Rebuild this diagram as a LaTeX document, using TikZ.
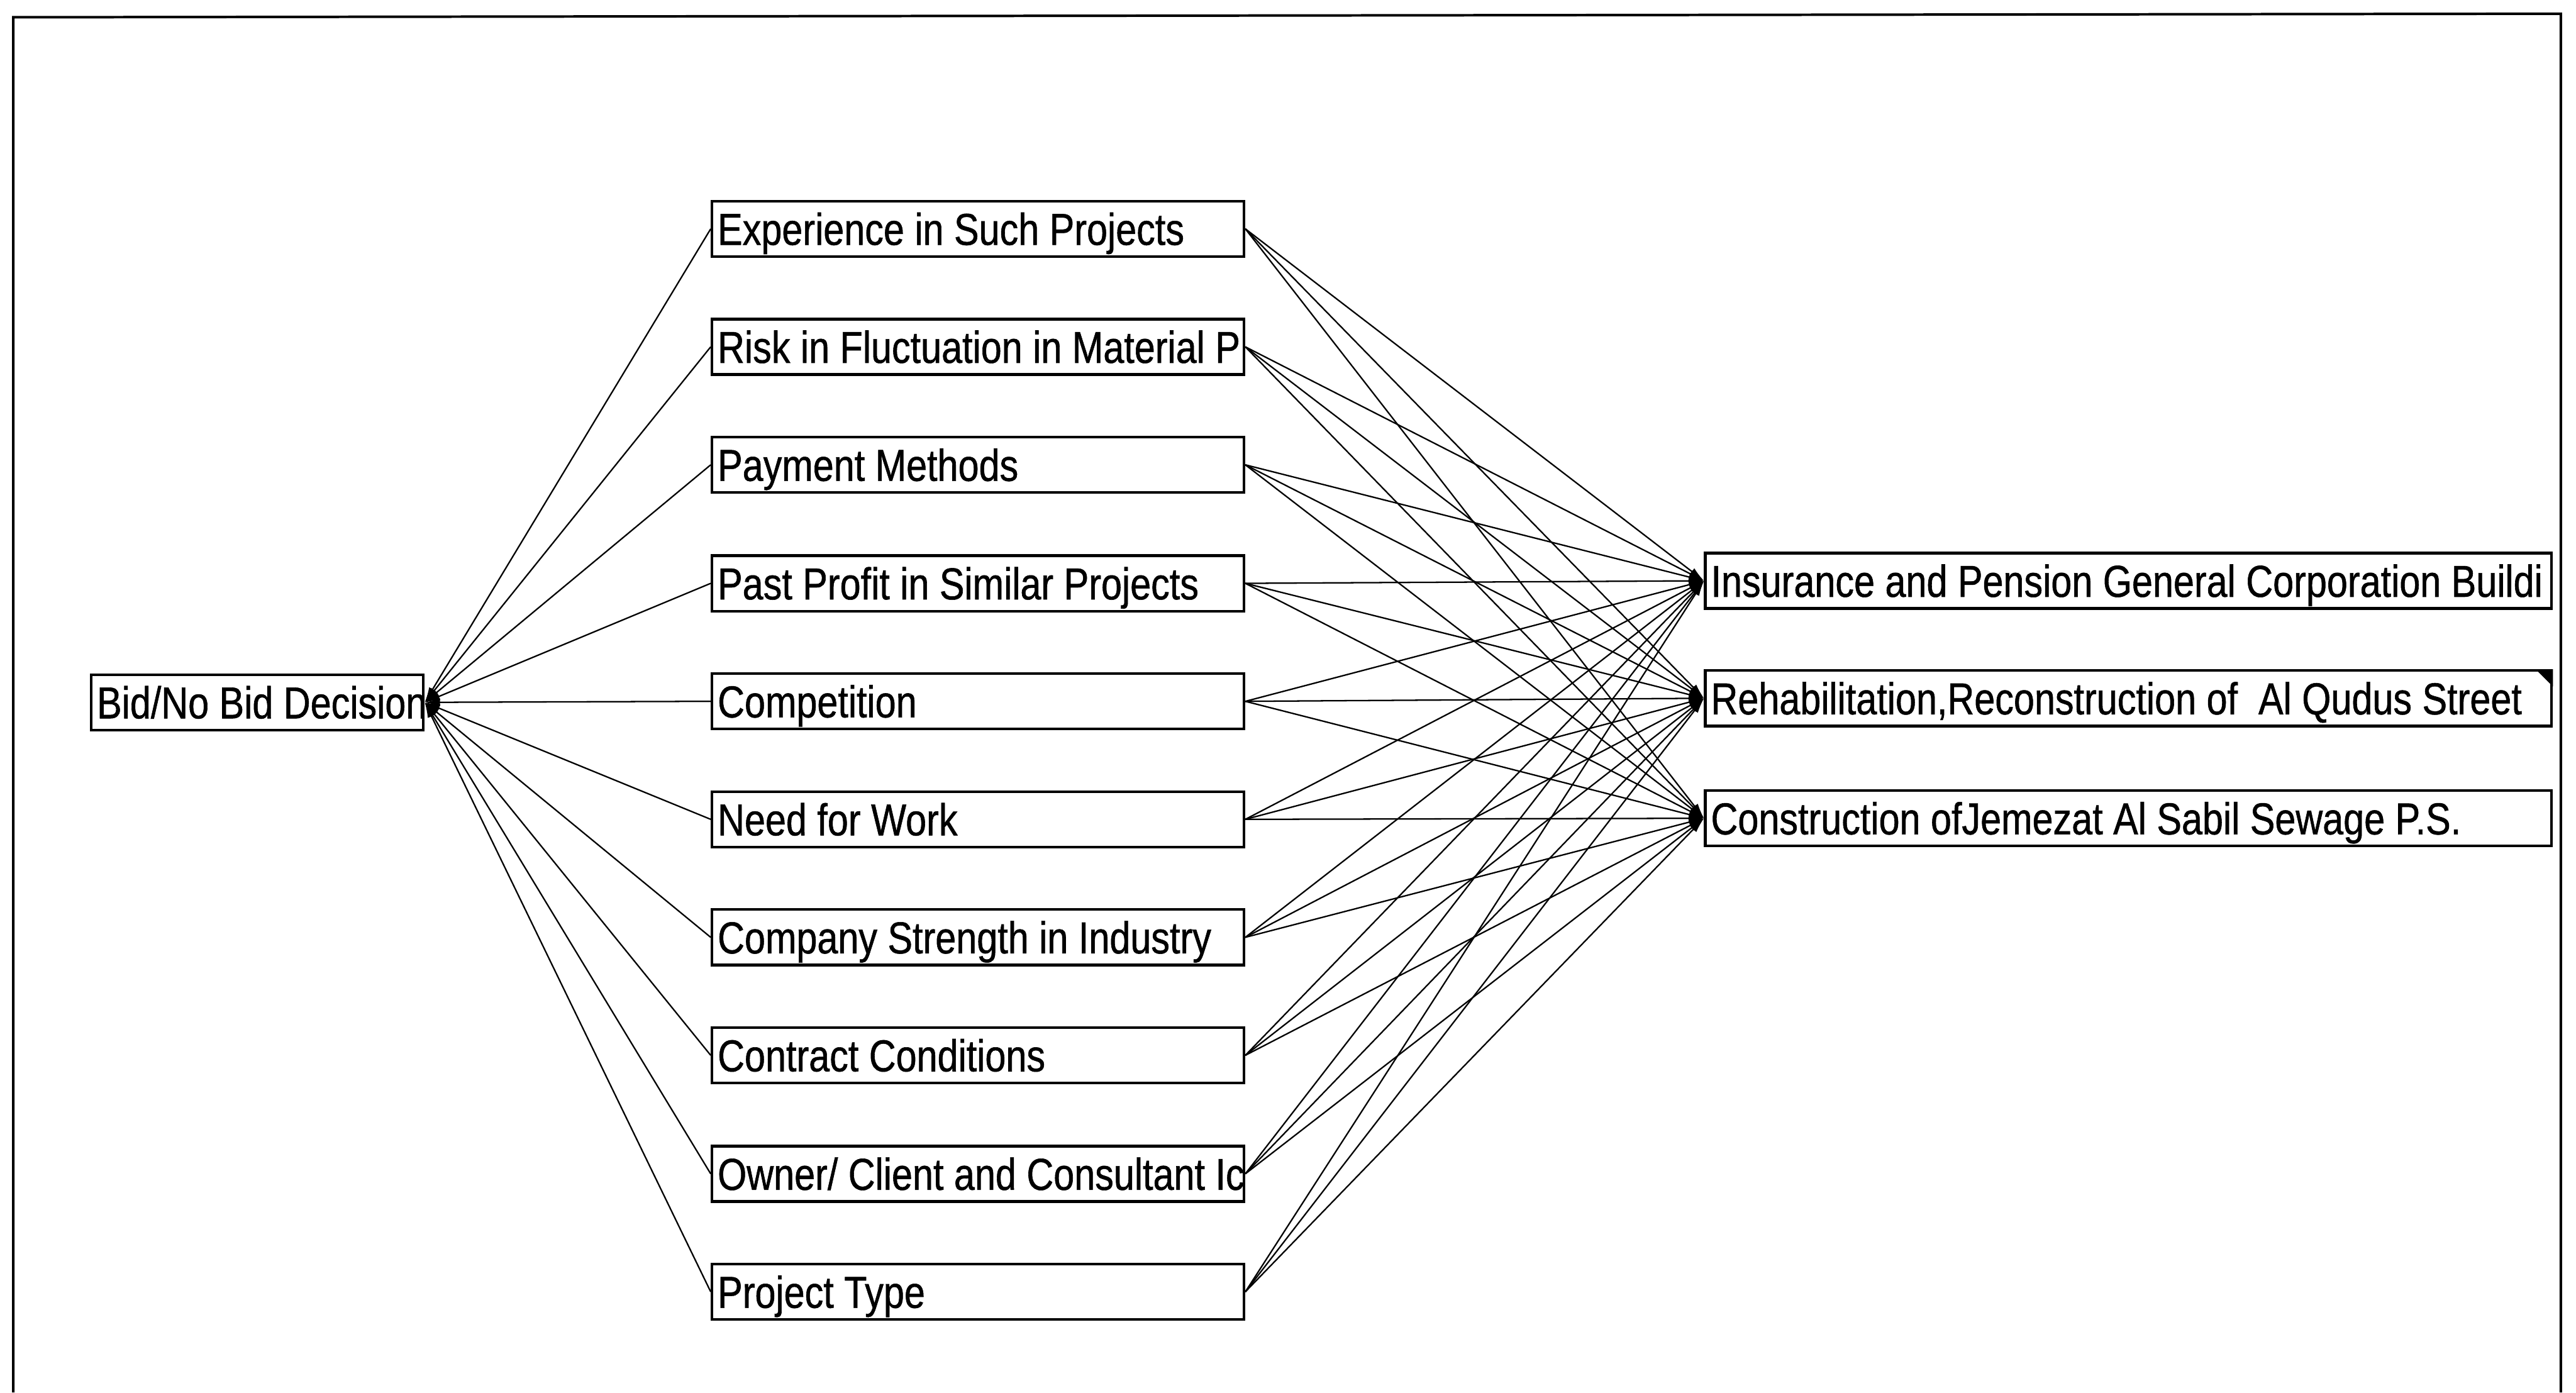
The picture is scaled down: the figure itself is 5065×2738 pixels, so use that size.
\documentclass[tikz,border=0pt]{standalone}
\usepackage{fontspec}
\setmainfont{Liberation Sans}[FakeStretch=0.835,FakeBold=0.8]
\usetikzlibrary{arrows.meta}
% label set flush left inside a box and clipped at its edges
\newcommand\celltext[2]{%
  \begin{scope}
    \clip (#1.south west) rectangle (#1.north east);
    \node[lbl] (#1-t) at ([xshift=1.3mm]#1.west) {#2};
  \end{scope}}
\begin{document}
\begin{tikzpicture}[x=0.1mm, y=-0.1mm,
  every node/.style={font=\fontsize{25pt}{30pt}\selectfont},
  lbl/.style={inner sep=0pt, text height=6.3mm, text depth=0pt, anchor=west},
  cell/.style={draw, line width=1.5pt, inner sep=0pt, minimum height=10.9mm},
  goal/.style={cell, minimum width=65.3mm},
  factor/.style={cell, minimum width=104.6mm},
  option/.style={cell, minimum width=166.4mm},
  link/.style={line width=0.8pt, -{Latex[length=3mm,width=1.6mm]}},
]
\useasboundingbox (0,0) rectangle (5065,2738);

% outer frame
\draw[line width=1.4pt] (26,2738) -- (26,34) -- (5035,27) -- (5035,2738);

% goal
\node[goal] (bid) at (506,1381) {};
\celltext{bid}{Bid/No Bid Decision}

% criteria
\foreach \name/\y in {f1/450, f2/682, f3/914, f4/1147, f5/1379,
                      f6/1611, f7/1843, f8/2075, f9/2308, f10/2540}
  \node[factor] (\name) at (1923,\y) {};
\celltext{f1}{Experience in Such Projects}
\celltext{f2}{Risk in Fluctuation in Material P}
\celltext{f3}{Payment Methods}
\celltext{f4}{Past Profit in Similar Projects}
\celltext{f5}{Competition}
\celltext{f6}{Need for Work}
\celltext{f7}{Company Strength in Industry}
\celltext{f8}{Contract Conditions}
\celltext{f9}{Owner/ Client and Consultant Ic}
\celltext{f10}{Project Type}

% alternatives
\node[option] (o1) at (4185,1142) {};
\node[option] (o2) at (4185,1373) {};
\node[option] (o3) at (4185,1609) {};
\celltext{o1}{Insurance and Pension General Corporation Buildi}
\celltext{o2}{Rehabilitation,Reconstruction of\ \ Al Qudus Street}
\celltext{o3}{Construction ofJemezat Al Sabil Sewage P.S.}

% corner marker
\fill (o2.north east) -- ++(-34,0) -- ++(34,34) -- cycle;

% criteria to goal
\foreach \i in {1,...,10}
  \draw[link] (f\i.west) -- (bid.east);

% alternatives under each criterion
\foreach \i in {1,...,10}
  \foreach \j in {1,2,3}
    \draw[link] (f\i.east) -- (o\j.west);
\end{tikzpicture}
\end{document}
